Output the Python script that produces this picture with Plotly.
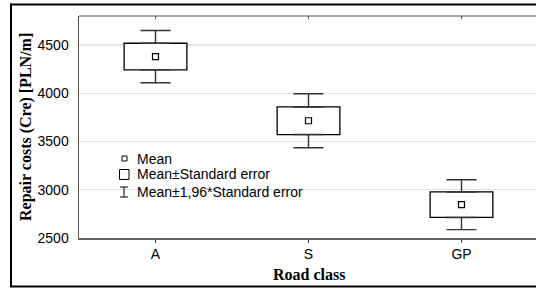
import plotly.graph_objects as go

# ---- data ----
categories = ["A", "S", "GP"]
means = [4380, 3715, 2845]
std_errors = [138, 143, 132]
y_tick_values = [2500, 3000, 3500, 4000, 4500]
legend_labels = ["Mean", "Mean\u00b1Standard error", "Mean\u00b11,96*Standard error"]

W, H = 536, 289
ML, MR, MT, MB = 79, 0, 16, 51
PW, PH = W - ML - MR, H - MT - MB


def fx(px):
    return (px - ML) / PW


def fy(py):
    return (H - MB - py) / PH


box_lo = [m - s for m, s in zip(means, std_errors)]
box_hi = [m + s for m, s in zip(means, std_errors)]
box_len = [h - l for h, l in zip(box_hi, box_lo)]
whisk_up = [1.96 * s - s for s in std_errors]

fig = go.Figure()

# box (mean ± SE)
fig.add_trace(go.Bar(
    x=categories, y=box_len, base=box_lo, width=0.41,
    marker=dict(color="white", line=dict(color="black", width=1.3)),
    showlegend=False, hoverinfo="skip",
))
# upper whisker
fig.add_trace(go.Scatter(
    x=categories, y=box_hi, mode="markers",
    marker=dict(size=1, color="rgba(0,0,0,0)"),
    error_y=dict(type="data", symmetric=False, array=whisk_up,
                 arrayminus=[0] * len(categories), color="#333333",
                 thickness=1.4, width=15),
    showlegend=False, hoverinfo="skip",
))
# lower whisker
fig.add_trace(go.Scatter(
    x=categories, y=box_lo, mode="markers",
    marker=dict(size=1, color="rgba(0,0,0,0)"),
    error_y=dict(type="data", symmetric=False, array=[0] * len(categories),
                 arrayminus=whisk_up, color="#333333",
                 thickness=1.4, width=15),
    showlegend=False, hoverinfo="skip",
))
# mean
fig.add_trace(go.Scatter(
    x=categories, y=means, mode="markers",
    marker=dict(symbol="square-open", size=6, color="black",
                line=dict(width=1.2, color="black")),
    showlegend=False, hoverinfo="skip",
))

shapes = []
annotations = []

# outer frame (left, top, bottom; right side is cut off in the reference)
frame = [((11, 3.5), (11, 287)), ((10, 4.5), (536, 4.5)), ((10, 286.5), (536, 286.5))]
for (x0, y0), (x1, y1) in frame:
    shapes.append(dict(type="line", xref="paper", yref="paper",
                       x0=fx(x0), x1=fx(x1), y0=fy(y0), y1=fy(y1),
                       line=dict(color="black", width=2), layer="above"))
# top frame line of plot area
shapes.append(dict(type="line", xref="paper", yref="paper",
                   x0=0, x1=1, y0=1, y1=1,
                   line=dict(color="#888888", width=1.6), layer="above"))
# small inward ticks on the top frame at each category
for c in categories:
    shapes.append(dict(type="line", xref="x", yref="paper",
                       x0=c, x1=c, y0=1, y1=fy(MT + 3),
                       line=dict(color="#444444", width=1), layer="above"))

# legend symbols
shapes.append(dict(type="rect", xref="paper", yref="paper",
                   x0=fx(122), x1=fx(127), y0=fy(161), y1=fy(156),
                   line=dict(color="black", width=1), layer="above"))
shapes.append(dict(type="rect", xref="paper", yref="paper",
                   x0=fx(119.5), x1=fx(129), y0=fy(179.5), y1=fy(169.5),
                   line=dict(color="black", width=1), layer="above"))
for seg in [((124, 187), (124, 197)), ((120, 187), (128, 187)), ((120, 197), (128, 197))]:
    (x0, y0), (x1, y1) = seg
    shapes.append(dict(type="line", xref="paper", yref="paper",
                       x0=fx(x0), x1=fx(x1), y0=fy(y0), y1=fy(y1),
                       line=dict(color="black", width=1), layer="above"))

for lbl, py in zip(legend_labels, [158.5, 174.5, 192]):
    annotations.append(dict(text=lbl, xref="paper", yref="paper", x=fx(135), y=fy(py),
                            xanchor="left", yanchor="middle", showarrow=False,
                            font=dict(family="Liberation Sans, Arial", size=14, color="black")))

# axis titles
annotations.append(dict(text="<b>Road class</b>", xref="paper", yref="paper",
                        x=fx(309), y=fy(274.5), xanchor="center", yanchor="middle",
                        showarrow=False,
                        font=dict(family="Liberation Serif, Times New Roman", size=16, color="black")))
annotations.append(dict(text="<b>Repair costs (Cre) [PLN/m]</b>", xref="paper", yref="paper",
                        x=fx(26), y=0.5, xanchor="center", yanchor="middle", textangle=-90,
                        showarrow=False,
                        font=dict(family="Liberation Serif, Times New Roman", size=16, color="black")))

fig.update_layout(
    width=W, height=H,
    margin=dict(l=ML, r=MR, t=MT, b=MB, pad=0),
    paper_bgcolor="white", plot_bgcolor="white",
    showlegend=False, bargap=0,
    shapes=shapes, annotations=annotations,
    font=dict(family="Liberation Sans, Arial", size=14, color="black"),
    xaxis=dict(
        type="category", categoryorder="array", categoryarray=categories,
        range=[-0.5, -0.5 + PW / 153.0],
        showgrid=False, zeroline=False,
        showline=True, linecolor="#666666", linewidth=1.5,
        ticks="outside", ticklen=3, tickcolor="#444444", tickwidth=1,
        tickfont=dict(family="Liberation Sans, Arial", size=14, color="black"),
        fixedrange=True,
    ),
    yaxis=dict(
        range=[2500, 2500 + PH / 0.0965],
        tickvals=y_tick_values,
        showgrid=True, gridcolor="#e3e3e3", gridwidth=1.3,
        zeroline=False,
        showline=True, linecolor="#555555", linewidth=1.5,
        ticks="", ticklabelstandoff=6,
        tickfont=dict(family="Liberation Sans, Arial", size=14, color="black"),
        fixedrange=True,
    ),
)

fig.write_html(
    "out.html",
    config={"displayModeBar": False, "staticPlot": True},
    post_script=(
        "document.body.style.margin='0';"
        "document.body.style.overflow='hidden';"
        "document.documentElement.style.overflow='hidden';"
    ),
)
